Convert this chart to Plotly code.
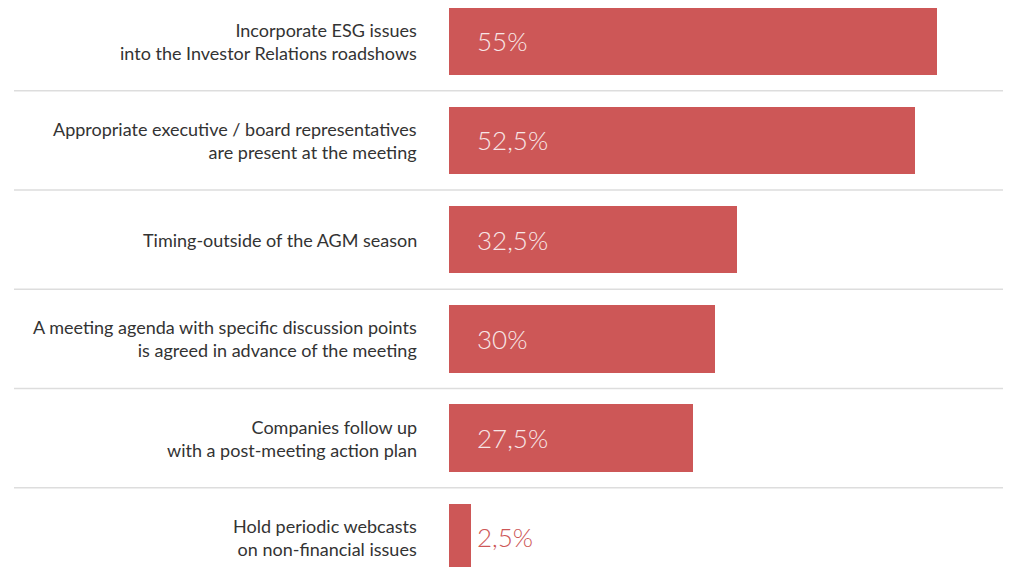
import plotly.graph_objects as go

categories = [
    "Incorporate ESG issues<br>into the Investor Relations roadshows",
    "Appropriate executive / board representatives<br>are present at the meeting",
    "Timing-outside of the AGM season",
    "A meeting agenda with specific discussion points<br>is agreed in advance of the meeting",
    "Companies follow up<br>with a post-meeting action plan",
    "Hold periodic webcasts<br>on non-financial issues",
]
values = [55, 52.5, 32.5, 30, 27.5, 2.5]

BAR = "#CD5757"
FONT = "Lato"

idx = list(range(len(values)))
fig = go.Figure(go.Bar(
    x=values, y=idx, orientation="h", width=0.68,
    marker=dict(color=BAR, line=dict(width=0)),
    hoverinfo="skip",
))

ann = []
for i, (c, v) in enumerate(zip(categories, values)):
    ann.append(dict(x=-3.4, y=i, xref="x", yref="y", text=c, showarrow=False,
                    xanchor="right", yanchor="middle", align="right",
                    font=dict(family=FONT, size=18, color="#333333")))
    inside = v > 10
    ann.append(dict(x=2.95, y=i, xref="x", yref="y",
                    text=f"{v:g}".replace(".", ",") + "%", showarrow=False,
                    xanchor="left", yanchor="middle",
                    font=dict(family=FONT, size=26, weight=300,
                              color="#F8E6E6" if inside else BAR)))

shapes = []
for i in range(len(values) - 1):
    shapes.append(dict(type="line", xref="paper", yref="y",
                       x0=6 / 1011, x1=1, y0=i + 0.5, y1=i + 0.5,
                       line=dict(color="#DDDDDD", width=1.5)))

fig.update_layout(
    width=1011, height=567,
    margin=dict(l=0, r=0, t=0, b=0),
    paper_bgcolor="white", plot_bgcolor="white",
    xaxis=dict(range=[-49.70, 64.24], visible=False, fixedrange=True),
    yaxis=dict(range=[5.378, -0.3323], visible=False, fixedrange=True),
    annotations=ann, shapes=shapes, showlegend=False,
    bargap=0,
)

fig.write_html("out.html")
